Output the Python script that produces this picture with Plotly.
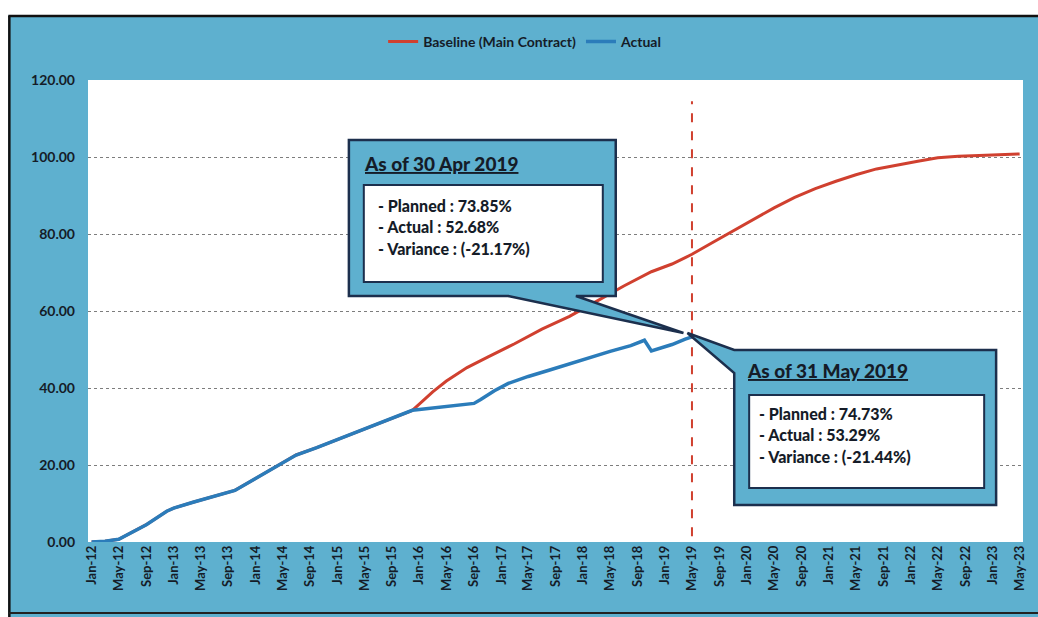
import plotly.graph_objects as go

# ---------------- data ----------------
shared_dates = ["2012-01-01", "2012-03-01", "2012-05-01", "2012-09-01", "2012-12-01",
                "2013-01-01", "2013-04-01", "2013-07-01", "2013-10-01", "2014-01-01",
                "2014-05-01", "2014-07-01", "2014-10-01", "2015-01-01", "2015-04-01",
                "2015-07-01", "2015-10-01", "2015-12-01"]
shared_values = [0.0, 0.2, 0.7, 4.5, 8.0, 8.8, 10.4, 11.9, 13.4, 16.5,
                 20.6, 22.6, 24.5, 26.6, 28.6, 30.7, 32.8, 34.2]

baseline_dates = ["2016-01-01", "2016-03-01", "2016-05-01", "2016-08-01", "2016-11-01",
                  "2017-03-01", "2017-07-01", "2017-11-01", "2018-03-01", "2018-07-01",
                  "2018-11-01", "2019-02-01", "2019-04-01", "2019-05-01", "2019-08-01",
                  "2019-11-01", "2020-02-01", "2020-05-01", "2020-08-01", "2020-11-01",
                  "2021-02-01", "2021-05-01", "2021-08-01", "2021-11-01", "2022-02-01",
                  "2022-05-01", "2022-08-01", "2022-11-01", "2023-02-01", "2023-05-01"]
baseline_values = [35.8, 39.0, 41.8, 45.3, 48.0, 51.5, 55.3, 58.6, 62.5, 66.5,
                   70.2, 72.2, 73.85, 74.73, 77.8, 80.8, 83.8, 86.8, 89.5, 91.8,
                   93.7, 95.4, 96.9, 98.0, 98.9, 99.8, 100.2, 100.4, 100.6, 100.8]

actual_dates = ["2016-01-01", "2016-04-01", "2016-07-01", "2016-09-01", "2016-10-01",
                "2016-12-01", "2017-02-01", "2017-05-01", "2017-08-01", "2017-11-01",
                "2018-02-01", "2018-05-01", "2018-08-01", "2018-10-01", "2018-11-01",
                "2019-02-01", "2019-04-01", "2019-05-01"]
actual_values = [34.4, 35.0, 35.6, 36.0, 37.0, 39.3, 41.2, 43.0, 44.6, 46.3,
                 47.8, 49.5, 51.0, 52.4, 49.6, 51.3, 52.68, 53.29]

status_date = "2019-05-01"
callout1_title = "As of 30 Apr 2019"
callout1_lines = ["- Planned : 73.85%", "- Actual : 52.68%", "- Variance : (-21.17%)"]
callout2_title = "As of 31 May 2019"
callout2_lines = ["- Planned : 74.73%", "- Actual : 53.29%", "- Variance : (-21.44%)"]

# ---------------- styling ----------------
W, H = 1038, 617
L, R, T, B = 88, 1027, 80, 542
TEAL = "#5eb0cf"
NAVY = "#1c2f4d"
TXT = "#151c28"
RED = "#d0402f"
BLUE = "#2b7cba"
FONT = "Lato"


def px(x):
    return (x - L) / (R - L)


def py(y):
    return (B - y) / (B - T)


fig = go.Figure()
fig.add_trace(go.Scatter(x=shared_dates + baseline_dates, y=shared_values + baseline_values,
                         mode="lines", name="Baseline (Main Contract)",
                         line=dict(color=RED, width=3)))
fig.add_trace(go.Scatter(x=shared_dates + actual_dates, y=shared_values + actual_values,
                         mode="lines", name="Actual",
                         line=dict(color=BLUE, width=3.5)))

shapes = []
shapes.append(dict(type="line", xref="x", yref="y", x0=status_date, x1=status_date,
                   y0=1.5, y1=114.5, line=dict(color=RED, width=2, dash="dash"), layer="above"))


def path(points):
    s = "M {:.5f},{:.5f}".format(px(points[0][0]), py(points[0][1]))
    for x, y in points[1:]:
        s += " L {:.5f},{:.5f}".format(px(x), py(y))
    return s + " Z"


# callout 1 (box + tail)
shapes.append(dict(type="path", xref="paper", yref="paper",
                   path=path([(350, 140), (618, 140), (618, 296), (578, 296), (686, 333),
                              (510, 296), (350, 296)]),
                   fillcolor=TEAL, line=dict(color=NAVY, width=2.5), layer="above"))
shapes.append(dict(type="rect", xref="paper", yref="paper",
                   x0=px(365), x1=px(605), y0=py(282), y1=py(185),
                   fillcolor="white", line=dict(color=NAVY, width=2), layer="above"))
# callout 2
shapes.append(dict(type="path", xref="paper", yref="paper",
                   path=path([(737, 350), (1000, 350), (1000, 505), (737, 505), (737, 373),
                              (690, 333)]),
                   fillcolor=TEAL, line=dict(color=NAVY, width=2.5), layer="above"))
shapes.append(dict(type="rect", xref="paper", yref="paper",
                   x0=px(752), x1=px(988), y0=py(488), y1=py(395),
                   fillcolor="white", line=dict(color=NAVY, width=2), layer="above"))

# outer frame / scan edges
shapes.append(dict(type="rect", xref="paper", yref="paper", x0=px(-5), x1=px(1045),
                   y0=py(15), y1=py(-5), fillcolor="white", line=dict(width=0), layer="above"))
shapes.append(dict(type="rect", xref="paper", yref="paper", x0=px(-5), x1=px(8),
                   y0=py(625), y1=py(-5), fillcolor="white", line=dict(width=0), layer="above"))
shapes.append(dict(type="line", xref="paper", yref="paper", x0=px(8), x1=px(1045),
                   y0=py(16), y1=py(16), line=dict(color="#111", width=2.5), layer="above"))
shapes.append(dict(type="line", xref="paper", yref="paper", x0=px(9), x1=px(9),
                   y0=py(16), y1=py(617), line=dict(color="#111", width=2.5), layer="above"))
shapes.append(dict(type="line", xref="paper", yref="paper", x0=px(8), x1=px(1045),
                   y0=py(613), y1=py(613), line=dict(color="#222", width=2), layer="above"))

annotations = []


def add_text(x, y, text, size):
    annotations.append(dict(xref="paper", yref="paper", x=px(x), y=py(y), text=text,
                            showarrow=False, xanchor="left", yanchor="middle",
                            font=dict(family=FONT, size=size, color=TXT, weight=900)))


add_text(363, 163, "<u>" + callout1_title + "</u>", 19)
for i, t in enumerate(callout1_lines):
    add_text(377, 205 + 21.5 * i, t, 16)
add_text(748, 370, "<u>" + callout2_title + "</u>", 19)
for i, t in enumerate(callout2_lines):
    add_text(760, 413 + 21.5 * i, t, 16)

fig.update_layout(
    width=W, height=H,
    margin=dict(l=L, r=W - R, t=T, b=H - B),
    paper_bgcolor=TEAL, plot_bgcolor="white",
    font=dict(family=FONT, color=TXT),
    showlegend=True, hovermode=False,
    legend=dict(orientation="h", x=px(527), xanchor="center", y=py(42), yanchor="middle",
                bgcolor="rgba(0,0,0,0)", font=dict(size=14, color=TXT, weight="bold"),
                itemwidth=30, tracegroupgap=0),
    shapes=shapes, annotations=annotations,
)
fig.update_xaxes(type="date", range=["2011-12-16", "2023-05-16"], tick0="2012-01-01",
                 dtick="M4", tickformat="%b-%y", tickangle=-90, showgrid=False,
                 tickfont=dict(size=13, color=TXT, weight="bold"), ticks="", showline=False,
                 zeroline=False)
fig.update_yaxes(range=[0, 120], dtick=20, tickformat=".2f", showgrid=True,
                 gridcolor="#7d7d7d", griddash="dot", gridwidth=1, zeroline=False,
                 tickfont=dict(size=14, color=TXT, weight="bold"), ticklabelstandoff=12)

fig.write_html("out.html", config={"displayModeBar": False},
               post_script="document.body.style.margin='0';")
